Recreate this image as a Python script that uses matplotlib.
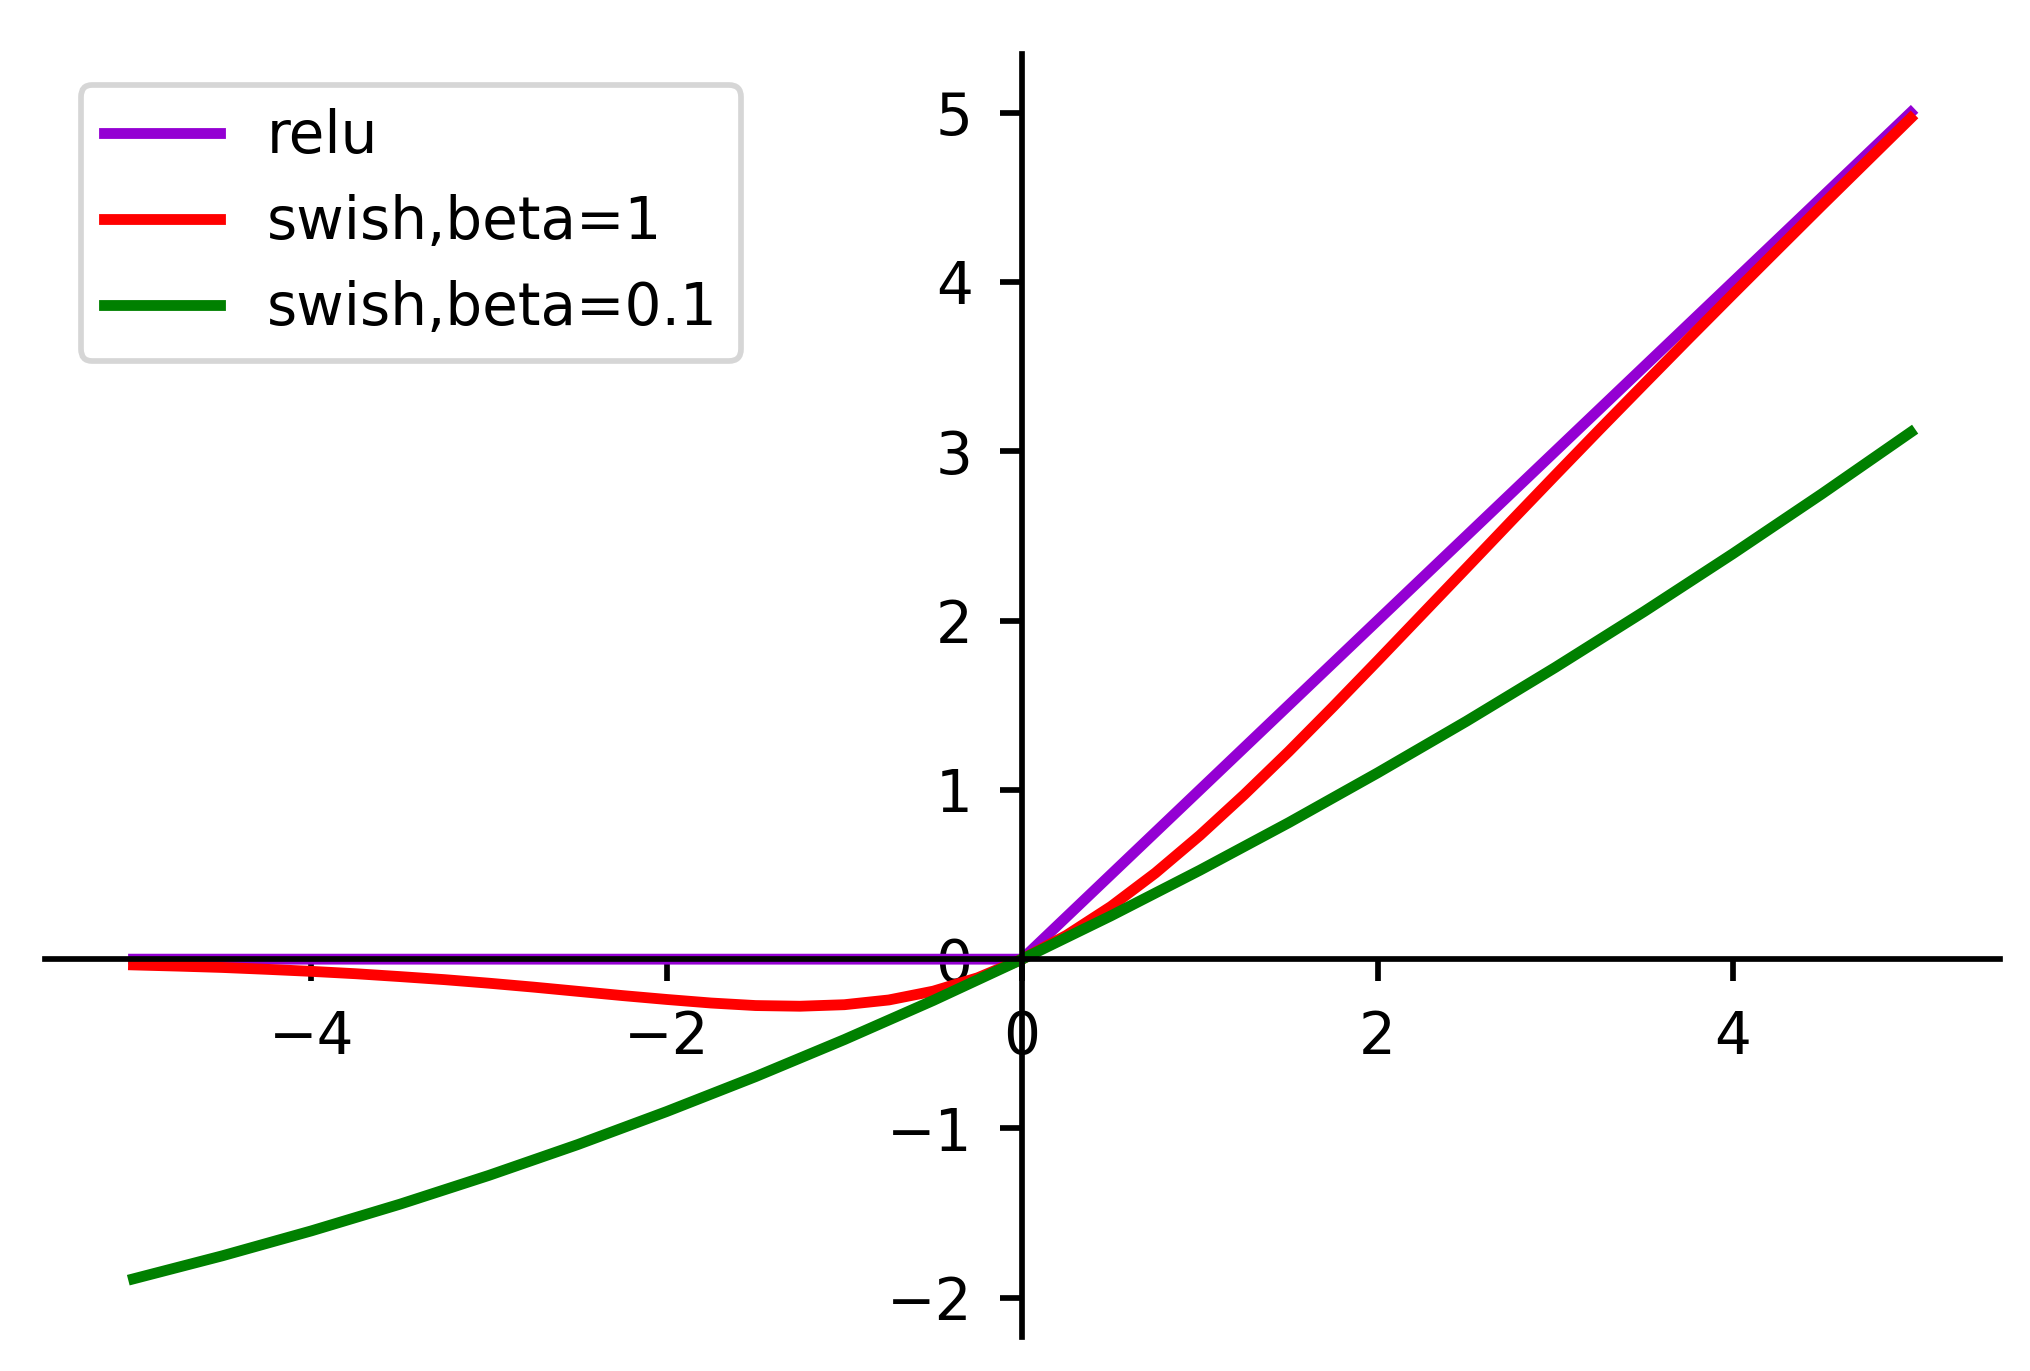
import matplotlib
matplotlib.use('Agg')
import matplotlib.pyplot as plt

# values
relu_x = [-5.0, 0.0, 5.0]
relu_y = [0.0, 0.0, 5.0]

swish1_x = [-5.0, -4.75, -4.5, -4.25, -4.0, -3.75, -3.5, -3.25, -3.0, -2.75,
            -2.5, -2.25, -2.0, -1.75, -1.5, -1.25, -1.0, -0.75, -0.5, -0.25,
            0.0, 0.25, 0.5, 0.75, 1.0, 1.25, 1.5, 1.75, 2.0, 2.25,
            2.5, 2.75, 3.0, 3.25, 3.5, 3.75, 4.0, 4.25, 4.5, 4.75, 5.0]
swish1_y = [-0.034, -0.041, -0.049, -0.060, -0.072, -0.086, -0.103, -0.121, -0.142, -0.165,
            -0.190, -0.215, -0.238, -0.259, -0.274, -0.278, -0.269, -0.241, -0.189, -0.110,
            0.0, 0.141, 0.311, 0.509, 0.731, 0.972, 1.226, 1.491, 1.762, 2.036,
            2.310, 2.585, 2.858, 3.129, 3.397, 3.664, 3.928, 4.190, 4.451, 4.709, 4.967]

swish01_x = [-5.0, -4.5, -4.0, -3.5, -3.0, -2.5, -2.0, -1.5, -1.0, -0.5, 0.0,
             0.5, 1.0, 1.5, 2.0, 2.5, 3.0, 3.5, 4.0, 4.5, 5.0]
swish01_y = [-1.888, -1.752, -1.605, -1.447, -1.277, -1.095, -0.900, -0.694, -0.475, -0.244, 0.0,
             0.256, 0.525, 0.806, 1.100, 1.405, 1.723, 2.053, 2.395, 2.748, 3.112]

DPI = 410
fig = plt.figure(figsize=(2030 / DPI, 1371 / DPI), dpi=DPI)
ax = fig.add_axes([0.022, 0.0247, 0.963, 0.9357])

ax.plot(relu_x, relu_y, color='darkviolet', lw=1.9, label='relu')
ax.plot(swish1_x, swish1_y, color='red', lw=1.9, label='swish,beta=1')
ax.plot(swish01_x, swish01_y, color='green', lw=1.9, label='swish,beta=0.1')

ax.spines['left'].set_position('zero')
ax.spines['bottom'].set_position('zero')
ax.spines['right'].set_visible(False)
ax.spines['top'].set_visible(False)
for s in ['left', 'bottom']:
    ax.spines[s].set_linewidth(1.0)

ax.set_xticks([-4, -2, 0, 2, 4])
ax.set_yticks([-2, -1, 0, 1, 2, 3, 4, 5])
ax.tick_params(length=3.8, width=1.0, pad=4.9, labelsize=10.2)

ax.legend(loc='upper left', bbox_to_anchor=(0.0185, 0.976), borderaxespad=0, fontsize=10.2)

plt.savefig('out.png', dpi=DPI)
